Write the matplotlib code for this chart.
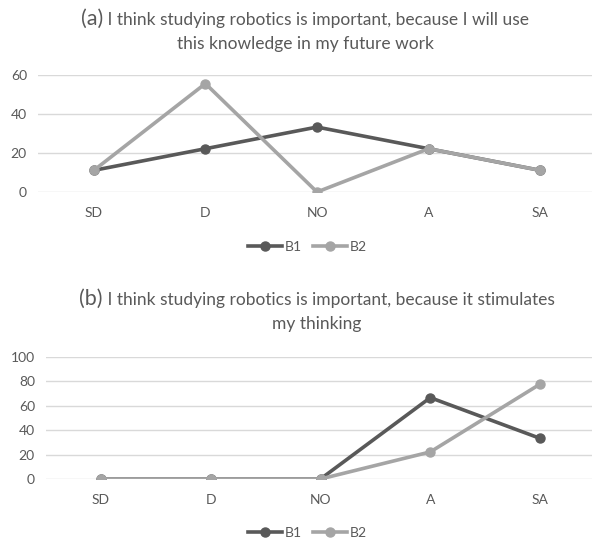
import matplotlib
matplotlib.use("Agg")
import matplotlib.pyplot as plt

plt.rcParams['font.family'] = ['Lato', 'DejaVu Sans']

categories = ['SD', 'D', 'NO', 'A', 'SA']

# panel (a): future work
a_b1 = [11.1, 22.2, 33.3, 22.2, 11.1]
a_b2 = [11.1, 55.6, 0.0, 22.2, 11.1]
a_ticks = [0, 20, 40, 60]

# panel (b): stimulates thinking
b_b1 = [0.0, 0.0, 0.0, 66.7, 33.3]
b_b2 = [0.0, 0.0, 0.0, 22.2, 77.8]
b_ticks = [0, 20, 40, 60, 80, 100]

W, H = 592, 542
dark = '#595959'
light = '#a5a5a5'
grid = '#d9d9d9'
text_c = '#595959'

fig = plt.figure(figsize=(W / 100, H / 100), dpi=100)


def px(x, y):
    return x / W, 1 - y / H


def panel(rect, b1, b2, ticks, ymax):
    ax = fig.add_axes(rect)
    x = range(len(categories))
    ax.plot(x, b1, color=dark, lw=2.6, marker='o', ms=6.5, label='B1', zorder=2)
    ax.plot(x, b2, color=light, lw=2.6, marker='o', ms=6.5, label='B2', zorder=3)
    ax.set_xlim(-0.5, len(categories) - 0.5)
    ax.set_ylim(0, ymax)
    ax.set_yticks(ticks)
    ax.set_xticks(list(x))
    ax.set_xticklabels(categories)
    ax.yaxis.grid(True, color=grid, lw=1)
    ax.set_axisbelow(True)
    for s in ax.spines.values():
        s.set_visible(False)
    ax.tick_params(length=0, labelsize=10, labelcolor=text_c)
    ax.tick_params(axis='y', pad=8)
    ax.tick_params(axis='x', pad=11)
    return ax


def title(tag, rest, line2, cx, y1, y2):
    r = fig.canvas.get_renderer()
    t1 = fig.text(0, 0, tag, fontsize=15.5, color=text_c, va='center')
    t2 = fig.text(0, 0, ' ' + rest, fontsize=12.5, color=text_c, va='center')
    w1 = t1.get_window_extent(r).width
    w2 = t2.get_window_extent(r).width
    x0 = cx - (w1 + w2) / 2
    t1.set_position(px(x0, y1))
    t2.set_position(px(x0 + w1, y1 + 1))
    fig.text(*px(cx, y2), line2, fontsize=12.5, color=text_c, ha='center', va='center')


def legend(ax, y):
    ax.legend(loc='center', bbox_to_anchor=(px(307, y)), bbox_transform=fig.transFigure,
              ncol=2, frameon=False, fontsize=10, handlelength=2.5, handletextpad=0.15,
              columnspacing=0.8, labelcolor=text_c)


# panel (a)
ax1 = panel([38 / W, 1 - 192 / H, 558 / W, 117 / H], a_b1, a_b2, a_ticks, 60)
title('(a)', 'I think studying robotics is important, because I will use',
      'this knowledge in my future work', 305, 19, 44)
legend(ax1, 247)

# panel (b)
ax2 = panel([46 / W, 1 - 479 / H, 549 / W, 122 / H], b_b1, b_b2, b_ticks, 100)
title('(b)', 'I think studying robotics is important, because it stimulates',
      'my thinking', 317, 299, 324)
legend(ax2, 533)

fig.savefig('out.png', dpi=100)
